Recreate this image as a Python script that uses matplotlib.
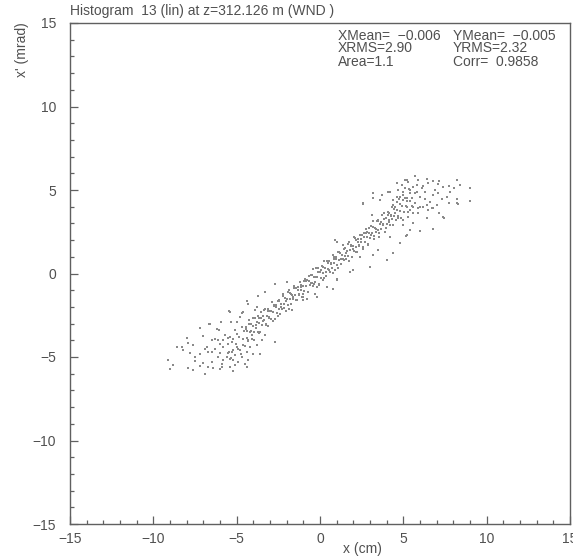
import numpy as np
import matplotlib
matplotlib.use("Agg")
import matplotlib.pyplot as plt
from matplotlib.ticker import MultipleLocator

# ---- data ----
title_text = "Histogram  13 (lin) at z=312.126 m (WND )"
x_label = "x (cm)"
y_label = "x' (mrad)"
stats_col1 = ["XMean=  \u22120.006", "XRMS=2.90", "Area=1.1"]
stats_col2 = ["YMean=  \u22120.005", "YRMS=2.32", "Corr=  0.9858"]
x_limits = (-15, 15)
y_limits = (-15, 15)

band_a = [
    (-5.48, -4.68), (-5.41, -3.83), (-5.35, -5.08), (-5.27, -4.12), (-5.20, -4.61), (-5.12, -3.40),
    (-5.06, -4.20), (-4.98, -3.63), (-4.91, -4.53), (-4.85, -3.83), (-4.77, -4.82), (-4.70, -3.21),
    (-4.63, -3.95), (-4.58, -3.46), (-4.52, -4.32),
    (-4.47, -3.18), (-4.41, -3.88), (-4.36, -3.44), (-4.30, -4.04), (-4.24, -2.79), (-4.19, -3.50),
    (-4.13, -3.05), (-4.08, -3.71), (-4.02, -3.12), (-3.97, -3.98), (-3.91, -2.68), (-3.86, -3.29),
    (-3.80, -2.89), (-3.75, -3.50), (-3.69, -2.65), (-3.64, -2.96), (-3.58, -3.51), (-3.53, -2.32),
    (-3.48, -3.08), (-3.43, -2.54), (-3.37, -2.80), (-3.32, -2.11), (-3.26, -3.06), (-3.21, -2.52),
    (-3.15, -3.12), (-3.10, -2.13), (-3.04, -2.63), (-2.99, -2.24), (-2.93, -2.74), (-2.88, -1.70),
    (-2.82, -2.31), (-2.77, -1.97), (-2.71, -2.72), (-2.66, -2.03), (-2.60, -2.38), (-2.55, -1.64),
    (-2.49, -2.14), (-2.44, -1.65), (-2.38, -2.40), (-2.33, -1.81), (-2.27, -2.12), (-2.22, -1.33),
    (-2.16, -1.83), (-2.11, -1.49), (-2.05, -2.24), (-2.00, -1.50), (-1.94, -1.90), (-1.89, -1.01),
    (-1.83, -1.51), (-1.78, -1.17), (-1.72, -1.83), (-1.67, -1.29), (-1.61, -1.54), (-1.56, -0.85),
    (-1.50, -1.30), (-1.45, -0.86), (-1.39, -1.56), (-1.34, -0.97), (-1.28, -1.27), (-1.23, -0.48),
    (-1.17, -0.99), (-1.12, -0.70), (-1.06, -1.40), (-1.01, -0.76), (-0.95, -1.06), (-0.90, -0.32),
    (-0.84, -0.77), (-0.79, -0.38), (-0.73, -1.08), (-0.68, -0.44), (-0.62, -0.70), (-0.57, -0.11),
    (-0.51, -0.56), (-0.46, -0.07), (-0.40, -0.72), (-0.35, -0.23), (-0.29, -0.53), (-0.24, 0.31),
    (-0.18, -0.19), (-0.13, 0.10), (-0.07, -0.61), (-0.02, 0.08), (0.04, -0.27), (0.09, 0.47),
    (0.15, 0.02), (0.20, 0.41), (0.26, -0.24), (0.31, 0.30), (0.37, 0.10), (0.42, 0.74),
    (0.48, 0.28), (0.53, 0.72), (0.59, 0.07), (0.64, 0.56), (0.70, 0.31), (0.75, 1.10),
    (0.81, 0.60), (0.86, 0.89), (0.92, 0.19), (0.97, 0.88), (1.03, 0.52), (1.08, 1.31),
    (1.14, 0.81), (1.19, 1.20), (1.25, 0.55), (1.30, 1.09), (1.36, 0.89), (1.41, 1.48),
    (1.47, 1.03), (1.52, 1.52), (1.58, 0.86), (1.63, 1.35), (1.69, 1.05), (1.74, 1.89),
    (1.80, 1.39), (1.85, 1.68), (1.91, 0.98), (1.96, 1.67), (2.02, 1.32), (2.07, 2.11),
    (2.13, 1.60), (2.18, 1.99), (2.24, 1.29), (2.29, 1.88), (2.35, 1.68), (2.40, 2.32),
    (2.46, 1.87), (2.51, 2.31), (2.57, 1.61), (2.62, 2.20), (2.68, 1.89), (2.73, 2.68),
    (2.79, 2.18), (2.84, 2.47), (2.90, 1.72), (2.95, 2.41), (3.01, 2.11), (3.06, 2.85),
    (3.12, 2.40), (3.17, 2.79), (3.23, 2.08), (3.28, 2.72), (3.34, 2.47), (3.39, 3.16),
    (3.45, 2.61), (3.50, 3.15), (3.56, 2.45), (3.61, 2.94), (3.67, 2.64), (3.72, 3.53),
    (3.78, 2.97), (3.83, 3.26), (3.89, 2.51), (3.94, 3.30), (4.00, 2.95), (4.05, 3.69),
    (4.11, 3.19), (4.16, 3.63), (4.22, 2.88), (4.27, 3.47), (4.33, 3.26), (4.38, 4.10),
    (4.44, 3.45), (4.49, 3.99), (4.55, 3.19), (4.60, 3.83), (4.66, 3.43), (4.71, 4.47),
    (4.77, 3.77), (4.82, 4.16), (4.88, 3.30), (4.93, 4.04), (4.99, 4.89), (5.04, 3.68),
    (5.10, 4.53), (5.15, 4.02), (5.21, 4.37), (5.26, 3.71), (5.32, 5.06), (5.37, 4.35),
]

band_b = [
    (-4.45, -3.34), (-4.35, -3.98), (-4.25, -3.02), (-4.15, -3.47), (-4.05, -2.64), (-3.95, -3.51),
    (-3.85, -3.08), (-3.75, -2.55), (-3.65, -3.57), (-3.55, -2.66), (-3.45, -2.84), (-3.35, -2.16),
    (-3.25, -3.02), (-3.15, -2.24), (-3.05, -2.66), (-2.95, -2.24), (-2.85, -2.86), (-2.75, -1.87),
    (-2.65, -1.90), (-2.55, -2.54), (-2.45, -1.58), (-2.35, -2.03), (-2.25, -1.20), (-2.15, -2.07),
    (-2.05, -1.64), (-1.95, -1.11), (-1.85, -2.13), (-1.75, -1.22), (-1.65, -1.40), (-1.55, -0.72),
    (-1.45, -1.58), (-1.35, -0.80), (-1.25, -1.22), (-1.15, -0.80), (-1.05, -1.42), (-0.95, -0.43),
    (-0.85, -0.46), (-0.75, -1.10), (-0.65, -0.14), (-0.55, -0.59), (-0.45, 0.24), (-0.35, -0.63),
    (-0.25, -0.20), (-0.15, 0.33), (-0.05, -0.69), (0.05, 0.22), (0.15, 0.04), (0.25, 0.72),
    (0.35, -0.14), (0.45, 0.64), (0.55, 0.22), (0.65, 0.64), (0.75, 0.02), (0.85, 1.01),
    (0.95, 0.98), (1.05, 0.34), (1.15, 1.30), (1.25, 0.85), (1.35, 1.68), (1.45, 0.81),
    (1.55, 1.24), (1.65, 1.77), (1.75, 0.75), (1.85, 1.66), (1.95, 1.48), (2.05, 2.16),
    (2.15, 1.30), (2.25, 2.08), (2.35, 1.66), (2.45, 2.08), (2.55, 1.46), (2.65, 2.45),
    (2.75, 2.42), (2.85, 1.78), (2.95, 2.74), (3.05, 2.29), (3.15, 3.12), (3.25, 2.25),
    (3.35, 2.68), (3.45, 3.21), (3.55, 2.19), (3.65, 3.10), (3.75, 2.92), (3.85, 3.60),
    (3.95, 2.74), (4.05, 3.52), (4.15, 3.10), (4.25, 3.52), (4.35, 2.90), (4.45, 3.89),
]

halo_low = [
    (-3.74, -1.35), (-4.36, -1.65), (-5.44, -2.23), (-4.68, -2.35), (-5.94, -2.91), (-5.34, -2.91),
    (-7.20, -3.25), (-6.64, -3.05), (-6.04, -3.41), (-7.04, -3.75), (-6.50, -3.99), (-5.50, -3.85),
    (-8.00, -3.85), (-8.56, -4.43), (-7.90, -4.15), (-7.60, -4.29), (-6.80, -4.39), (-6.30, -4.55),
    (-5.80, -4.43), (-8.20, -4.59), (-7.80, -4.79), (-7.20, -4.85), (-6.70, -4.69), (-6.00, -4.79),
    (-5.50, -4.75), (-5.10, -4.89), (-9.10, -5.19), (-7.50, -5.23), (-7.00, -5.35), (-6.50, -5.29),
    (-5.80, -5.19), (-5.40, -5.09), (-8.80, -5.49), (-7.90, -5.63), (-7.20, -5.55), (-6.40, -5.63),
    (-6.00, -5.73), (-5.24, -5.83), (-6.90, -6.03), (-7.60, -5.79), (-9.00, -5.69),
    (-8.30, -4.40), (-7.50, -5.00), (-6.60, -3.00), (-6.10, -4.00), (-5.40, -2.30), (-5.90, -5.40),
    (-5.20, -5.20), (-4.40, -5.60), (-4.20, -4.40), (-3.60, -4.80), (-2.70, -4.10), (-3.80, -2.00),
    (-3.30, -1.10), (-2.70, -0.60), (-2.00, -0.50), (-1.70, -2.20), (-1.00, -1.60), (-0.20, -0.80),
    (0.20, -0.40), (0.90, 2.00), (1.00, -0.30), (-4.30, -1.80), (-0.80, -1.50), (-0.30, -1.20),
    (0.40, -0.80), (-4.60, -2.30),
    (-4.60, -4.30), (-4.70, -5.00), (-4.80, -4.60), (-4.90, -5.30), (-5.00, -4.40), (-5.10, -5.50),
    (-5.20, -3.90), (-5.30, -4.70), (-5.40, -5.60), (-5.50, -4.20), (-5.60, -5.00), (-5.70, -3.70),
    (-5.80, -4.00), (-5.90, -5.60), (-6.00, -4.20), (-6.10, -5.00), (-6.30, -3.90), (-6.50, -4.70),
    (-6.70, -5.60), (-6.90, -4.50), (-4.40, -4.70), (-4.30, -5.20), (-4.50, -5.40), (-4.00, -4.80),
    (-3.80, -4.30), (-3.50, -4.00), (-4.10, -3.90), (-3.30, -3.70), (-6.20, -3.30), (-5.00, -2.90),
    (-4.80, -2.60), (-3.90, -2.20),
]

halo_high = [
    (5.70, 5.84), (6.44, 5.66), (7.16, 5.56), (8.24, 5.60), (9.00, 5.10), (9.00, 4.36),
    (8.06, 5.10), (7.76, 5.26), (7.10, 5.36), (6.76, 5.54), (6.20, 5.26), (5.84, 5.30),
    (5.70, 4.80), (5.40, 5.00), (6.30, 4.46), (6.80, 4.70), (7.30, 4.46), (7.60, 4.56),
    (7.76, 4.20), (8.24, 4.46), (8.30, 4.14), (6.70, 3.94), (6.00, 4.00), (5.90, 3.60),
    (6.40, 3.30), (7.16, 3.60), (7.44, 3.34), (6.80, 2.66), (6.00, 2.54), (5.40, 2.60),
    (5.16, 2.24), (5.50, 4.06), (5.10, 5.60), (5.20, 4.50),
    (4.60, 5.40), (5.20, 5.60), (4.20, 4.90), (3.70, 4.70), (3.20, 4.80), (2.60, 4.20),
    (7.40, 3.40), (8.20, 4.20), (5.60, 4.00), (6.40, 4.10), (5.00, 2.90), (5.20, 2.30),
    (4.20, 2.20), (3.50, 1.40), (3.20, 1.10), (2.40, 1.00), (1.80, 0.10), (1.00, -0.40),
    (0.80, -0.90), (-0.20, -1.40), (-1.00, -1.20),
    (1.00, 1.90), (2.60, 4.16), (3.20, 4.50), (3.60, 4.40), (4.10, 4.90), (4.60, 4.60),
    (5.00, 4.40), (5.40, 3.80), (5.60, 3.00), (4.80, 1.80), (4.40, 1.20), (4.00, 0.80),
    (3.00, 0.40), (2.00, 0.20), (3.10, 3.50),
    (4.60, 4.30), (4.70, 5.00), (4.80, 4.60), (4.90, 5.30), (5.00, 4.70), (5.10, 5.10),
    (5.20, 4.00), (5.30, 5.50), (5.40, 4.80), (5.50, 4.50), (5.60, 5.20), (5.70, 4.20),
    (5.80, 4.90), (5.90, 5.60), (6.00, 4.60), (6.10, 5.10), (6.30, 4.90), (6.50, 5.40),
    (6.60, 4.30), (6.90, 5.00), (7.10, 4.80), (7.40, 5.20), (7.80, 4.90), (8.40, 5.30),
    (4.40, 4.40), (4.30, 4.00), (4.50, 3.60), (4.70, 3.30), (5.00, 3.20), (5.30, 3.40),
    (5.60, 3.60), (5.90, 3.90), (6.20, 4.00), (6.50, 3.80), (6.80, 3.90), (7.00, 4.10),
]

# ---- figure ----
W, H = 573, 557
fig = plt.figure(figsize=(W / 100, H / 100), dpi=100)
fig.patch.set_facecolor("white")
ax = fig.add_axes([70 / W, 1 - 524 / H, 500 / W, 501 / H])

txt_color = "#505050"
frame_color = "#606060"
font = "Liberation Sans"
fs = 10

for group in (band_a, band_b, halo_low, halo_high):
    arr = np.array(group)
    ax.scatter(arr[:, 0], arr[:, 1], s=1.1, marker="s", c="#8a8a8a",
               linewidths=0)

ax.set_xlim(*x_limits)
ax.set_ylim(*y_limits)

for side in ("top", "right", "left", "bottom"):
    ax.spines[side].set_color(frame_color)
    ax.spines[side].set_linewidth(1.0)

ax.xaxis.set_major_locator(MultipleLocator(5))
ax.xaxis.set_minor_locator(MultipleLocator(1))
ax.yaxis.set_major_locator(MultipleLocator(5))
ax.yaxis.set_minor_locator(MultipleLocator(1))
ax.tick_params(which="both", direction="in", top=False, right=False,
               color=frame_color, width=0.9)
ax.tick_params(which="major", length=6.0)
ax.tick_params(which="minor", length=3.2)
ax.tick_params(axis="x", which="major", pad=6, labelsize=fs, labelcolor=txt_color)
ax.tick_params(axis="y", which="major", pad=10, labelsize=fs, labelcolor=txt_color)
for lab in ax.get_xticklabels() + ax.get_yticklabels():
    lab.set_fontfamily(font)

fig.text(362 / W, 1 - 549 / H, x_label, ha="center", va="center",
         fontsize=fs, color=txt_color, family=font)
fig.text(22 / W, 1 - 22 / H, y_label, ha="center", va="top", rotation=90,
         fontsize=fs, color=txt_color, family=font)
fig.text(70 / W, 1 - 11 / H, title_text, ha="left", va="center",
         fontsize=fs, color=txt_color, family=font)

line_y = [35.5, 48.5, 61.5]
for t1, t2, yy in zip(stats_col1, stats_col2, line_y):
    fig.text(338 / W, 1 - yy / H, t1, ha="left", va="center",
             fontsize=fs, color=txt_color, family=font)
    fig.text(453 / W, 1 - yy / H, t2, ha="left", va="center",
             fontsize=fs, color=txt_color, family=font)

fig.savefig("out.png", dpi=100, facecolor="white")
